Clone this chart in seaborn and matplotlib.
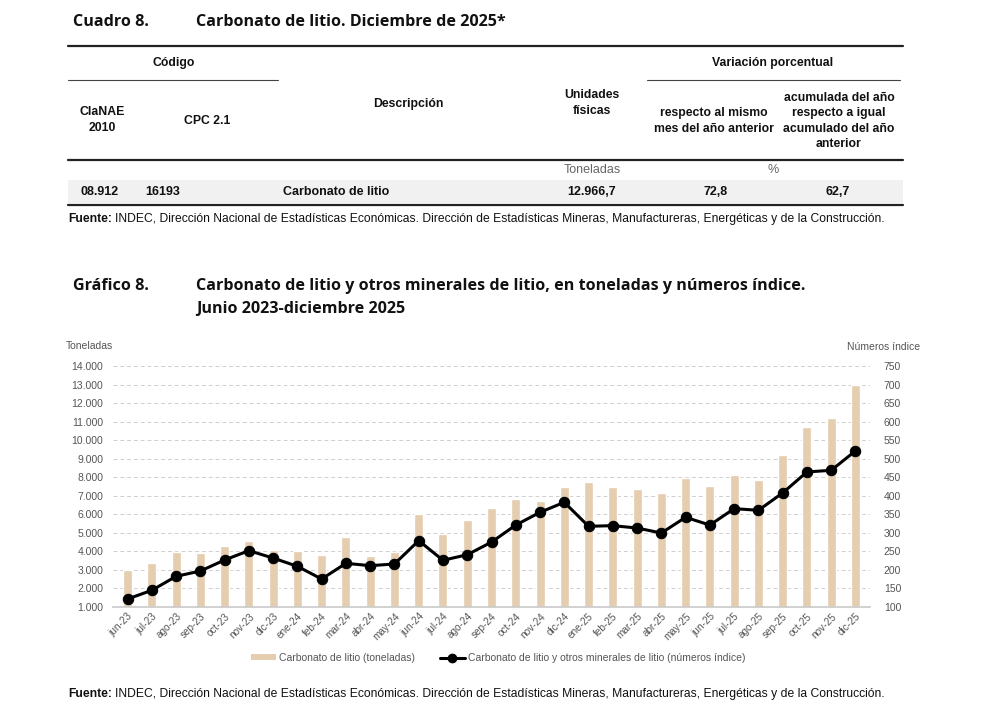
#!/usr/bin/env python3

import numpy as np
import pandas as pd
import matplotlib
matplotlib.use("Agg")
import matplotlib.pyplot as plt
import seaborn as sns
from matplotlib.lines import Line2D
from matplotlib.patches import Rectangle, Patch
from matplotlib.ticker import FuncFormatter, MultipleLocator

# MARK: data
meses = [
    "jun-23", "jul-23", "ago-23", "sep-23", "oct-23", "nov-23", "dic-23",
    "ene-24", "feb-24", "mar-24", "abr-24", "may-24", "jun-24", "jul-24",
    "ago-24", "sep-24", "oct-24", "nov-24", "dic-24", "ene-25", "feb-25",
    "mar-25", "abr-25", "may-25", "jun-25", "jul-25", "ago-25", "sep-25",
    "oct-25", "nov-25", "dic-25",
]
toneladas = [
    3000, 3356, 3986, 3896, 4309, 4579, 4076, 4022, 3824, 4759, 3770, 3986,
    6036, 4957, 5676, 6360, 6827, 6719, 7493, 7763, 7457, 7349, 7133, 7978,
    7529, 8122, 7871, 9183, 10694, 11216, 12966.7,
]
indice = [
    121.6, 145, 182.7, 197, 226.8, 252, 232, 209.7, 175.5, 217.8, 211.5, 216,
    279, 226, 241, 275, 321, 355.4, 382.4, 317.6, 319.4, 313, 299.6, 341.9,
    321, 365.3, 360.8, 407.6, 464.2, 468.7, 520.9,
]

tabla_fila = ["08.912", "16193", "Carbonato de litio", "12.966,7", "72,8", "62,7"]

fuente = ("INDEC, Dirección Nacional de Estadísticas Económicas. Dirección de "
          "Estadísticas Mineras, Manufactureras, Energéticas y de la Construcción.")

BAR_COLOR = "#e5cdb0"
GRAY = "#555555"
TITLE_FONT = "Open Sans"
HEAD_FONT = ["Liberation Sans Narrow", "Liberation Sans"]
BODY_FONT = "Liberation Sans"

W, H = 990, 712


def fx(x):
    return x / W


def fy(y):
    return 1 - y / H


def hline(fig, x0, x1, y, lw=1.0, color="#222222"):
    fig.add_artist(Line2D([fx(x0), fx(x1)], [fy(y), fy(y)], lw=lw, color=color))


def txt(fig, x, y, s, **kw):
    fig.text(fx(x), fy(y), s, **kw)


def main():
    sns.set_theme(style="white")
    plt.rcParams["font.family"] = ["Liberation Sans", "DejaVu Sans"]

    fig = plt.figure(figsize=(9.9, 7.12), dpi=100)

    # MARK: table (Cuadro 8)
    tkw = dict(family=TITLE_FONT, fontweight="bold", fontsize=11.6, color="#111111", va="center")
    txt(fig, 73, 22, "Cuadro 8.", **tkw)
    txt(fig, 196, 22, "Carbonato de litio. Diciembre de 2025*", **tkw)

    hline(fig, 68, 903, 46, lw=1.6)
    hline(fig, 68, 278, 80, lw=0.8, color="#444444")
    hline(fig, 647, 900, 80, lw=0.8, color="#444444")
    hline(fig, 68, 903, 160, lw=1.6)
    fig.add_artist(Rectangle((fx(68), fy(203)), fx(903) - fx(68), (203 - 180) / H,
                             color="#f1f1f1", lw=0))
    hline(fig, 68, 903, 205, lw=1.6)

    hkw = dict(family=HEAD_FONT, fontweight="bold", fontsize=8.8, color="#111111",
               ha="center", va="center", linespacing=1.35)
    txt(fig, 174, 63, "Código", **hkw)
    txt(fig, 773, 63, "Variación porcentual", **hkw)
    txt(fig, 102, 120, "ClaNAE\n2010", **hkw)
    txt(fig, 207, 121, "CPC 2.1", **hkw)
    txt(fig, 408, 104, "Descripción", **hkw)
    txt(fig, 592, 103, "Unidades\nfísicas", **hkw)
    txt(fig, 714, 121, "respecto al mismo\nmes del año anterior", **hkw)
    txt(fig, 839, 121, "acumulada del año\nrespecto a igual\nacumulado del año\nanterior", **hkw)

    ukw = dict(family=HEAD_FONT, fontsize=9, color="#666666", ha="center", va="center")
    txt(fig, 592, 170, "Toneladas", **ukw)
    txt(fig, 773, 170, "%", **ukw)

    rkw = dict(family=HEAD_FONT, fontweight="bold", fontsize=9, color="#111111", va="center")
    txt(fig, 100, 192, tabla_fila[0], ha="center", **rkw)
    txt(fig, 145, 192, tabla_fila[1], ha="left", **rkw)
    txt(fig, 336, 192, tabla_fila[2], ha="center", **rkw)
    txt(fig, 592, 192, tabla_fila[3], ha="center", **rkw)
    txt(fig, 716, 192, tabla_fila[4], ha="center", **rkw)
    txt(fig, 838, 192, tabla_fila[5], ha="center", **rkw)

    def fuente_line(y):
        t = fig.text(fx(68), fy(y), "Fuente:", family=BODY_FONT, fontweight="bold",
                     fontsize=8.7, color="#111111", va="center")
        fig.canvas.draw()
        bb = t.get_window_extent()
        fig.text(bb.x1 / fig.bbox.width + 0.003, fy(y), fuente, family=BODY_FONT,
                 fontsize=8.7, color="#111111", va="center")

    fuente_line(219)

    # MARK: chart (Gráfico 8)
    txt(fig, 73, 286, "Gráfico 8.", **tkw)
    txt(fig, 196, 286, "Carbonato de litio y otros minerales de litio, en toneladas y números índice.", **tkw)
    txt(fig, 196, 309, "Junio 2023-diciembre 2025", **tkw)

    df = pd.DataFrame({"mes": meses, "toneladas": toneladas, "indice": indice})

    ax = fig.add_axes([fx(113), fy(607), fx(870) - fx(113), (607 - 366) / H])
    sns.barplot(data=df, x="mes", y="toneladas", color=BAR_COLOR, width=0.37,
                saturation=1, ax=ax)
    ax.set_ylim(1000, 14000)
    ax.yaxis.set_major_locator(MultipleLocator(1000))
    ax.yaxis.set_major_formatter(FuncFormatter(lambda v, p: f"{int(v):,}".replace(",", ".")))
    ax.set_xlim(-0.6, len(meses) - 0.4)
    ax.grid(axis="y", color="#cfcfcf", ls=(0, (4, 3)), lw=0.7)
    ax.set_axisbelow(True)
    for s in ["top", "right", "left"]:
        ax.spines[s].set_visible(False)
    ax.spines["bottom"].set_color("#cccccc")
    ax.set_xlabel("")
    ax.set_ylabel("")
    ax.tick_params(axis="y", length=0, labelsize=7.5, labelcolor=GRAY, pad=7)
    ax.tick_params(axis="x", length=0, labelsize=7.2, labelcolor=GRAY, pad=3)
    ax.set_xticks(range(len(meses)))
    ax.set_xticklabels(meses, rotation=45, ha="right", rotation_mode="anchor")
    # small ticks between categories
    ax.set_xticks(np.arange(len(meses) + 1) - 0.5, minor=True)
    ax.tick_params(axis="x", which="minor", length=4, color="#cccccc", width=0.7)

    ax2 = ax.twinx()
    sns.lineplot(data=df, x=np.arange(len(meses)), y="indice", ax=ax2, color="black",
                 lw=2.2, marker="o", markersize=7.5, markeredgecolor="black")
    ax2.set_ylim(100, 750)
    ax2.yaxis.set_major_locator(MultipleLocator(50))
    ax2.set_ylabel("")
    for s in ["top", "right", "left", "bottom"]:
        ax2.spines[s].set_visible(False)
    ax2.tick_params(axis="y", length=0, labelsize=7.5, labelcolor=GRAY, pad=10)
    ax2.set_xlim(ax.get_xlim())

    txt(fig, 66, 346, "Toneladas", fontsize=7.5, color=GRAY, va="center", ha="left")
    txt(fig, 920, 347, "Números índice", fontsize=7.5, color=GRAY, va="center", ha="right")

    handles = [
        Patch(facecolor=BAR_COLOR, edgecolor="none", label="Carbonato de litio (toneladas)"),
        Line2D([], [], color="black", lw=2.2, marker="o", markersize=6,
               label="Carbonato de litio y otros minerales de litio (números índice)"),
    ]
    fig.legend(handles=handles, loc="center", bbox_to_anchor=(fx(498), fy(658)), ncol=2,
               frameon=False, fontsize=7.5, labelcolor=GRAY, handlelength=2.4,
               handleheight=0.5, handletextpad=0.3, columnspacing=2.4)

    fuente_line(694)

    fig.savefig("out.png", dpi=100)


if __name__ == "__main__":
    main()
